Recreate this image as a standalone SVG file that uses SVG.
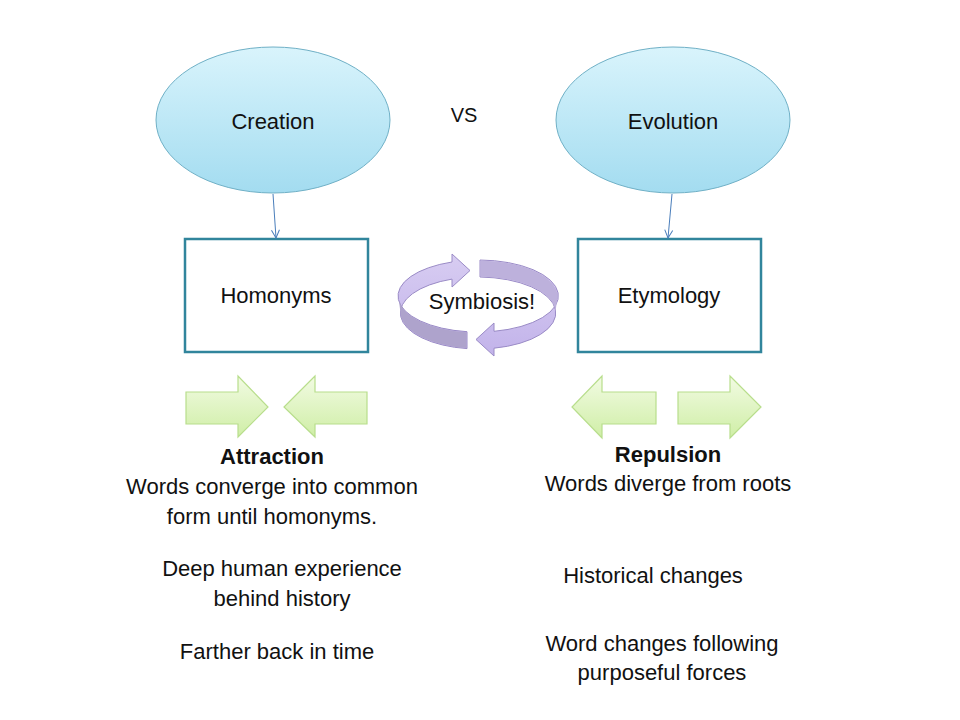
<svg xmlns="http://www.w3.org/2000/svg" width="960" height="720" viewBox="0 0 960 720">
<defs>
<linearGradient id="gBlue" x1="0" y1="0" x2="0" y2="1">
<stop offset="0" stop-color="#d9f4fc"/>
<stop offset="1" stop-color="#a3dcf0"/>
</linearGradient>
<linearGradient id="gGreen" x1="0" y1="0" x2="0" y2="1">
<stop offset="0" stop-color="#f2fbe3"/>
<stop offset="1" stop-color="#cfeea6"/>
</linearGradient>
<linearGradient id="gPurple" x1="0" y1="0" x2="0" y2="1">
<stop offset="0" stop-color="#d8cdf2"/>
<stop offset="1" stop-color="#c2b3ea"/>
</linearGradient>
<marker id="arr" markerWidth="10" markerHeight="10" refX="9" refY="5" orient="auto" markerUnits="userSpaceOnUse">
<path d="M1 1 L9 5 L1 9" fill="none" stroke="#4a7ebb" stroke-width="1"/>
</marker>
<style>
.t{font-family:"Liberation Sans",Arial,sans-serif;font-size:22px;fill:#111;text-anchor:middle}
.b{font-weight:bold}
.ell{fill:url(#gBlue);stroke:#6fb0c6;stroke-width:1}
.box{fill:#fff;stroke:#31859c;stroke-width:2.5}
.garr{fill:url(#gGreen);stroke:#b8de8c;stroke-width:1.2}
.ptop{fill:url(#gPurple);stroke:#9a8bc6;stroke-width:1}
.pshade{fill:#aea3cc;stroke:none}
.pshade2{fill:#bdb1dc;stroke:none}
.conn{stroke:#4a7ebb;stroke-width:1;fill:none}
</style>
</defs>
<rect width="960" height="720" fill="#fff"/>

<g id="creation">
<ellipse class="ell" cx="273" cy="120" rx="117" ry="73"/>
<text class="t" x="273" y="129">Creation</text>
</g>
<g id="evolution">
<ellipse class="ell" cx="673" cy="120" rx="117" ry="73"/>
<text class="t" x="673" y="129">Evolution</text>
</g>
<g id="vs">
<text class="t" x="464" y="122" style="font-size:20px">VS</text>
</g>
<g id="homonyms">
<rect class="box" x="185" y="239" width="183" height="113"/>
<text class="t" x="276" y="303">Homonyms</text>
</g>
<g id="etymology">
<rect class="box" x="578" y="239" width="183" height="113"/>
<text class="t" x="669" y="303">Etymology</text>
</g>

<g id="connectors">
<line class="conn" x1="273" y1="194" x2="276" y2="238" marker-end="url(#arr)"/>
<line class="conn" x1="672" y1="194" x2="668" y2="238" marker-end="url(#arr)"/>
</g>

<g id="symbiosis">
<path class="ptop" d="M467 331.7 A80 36 0 0 1 452 262 L452 254 L470 270.5 L452 287 L452 279.1 A78 36 0 0 0 467 348.6 Z"/>
<path class="pshade" d="M398.5 297 A80 36 0 0 0 466.5 332.2 L466.5 348 A78 36 0 0 1 400.5 313 Z"/>
<path class="ptop" d="M480 260 A80 36 0 0 1 494 331.3 L494 323 L476 339.5 L494 356 L494 348.2 A78 36 0 0 0 480 277 Z"/>
<path class="pshade2" d="M480.5 260.5 A80 36 0 0 1 557.5 296 L555.5 312 A78 36 0 0 0 480.5 276.5 Z"/>
<text class="t" x="482" y="309">Symbiosis!</text>
</g>

<g id="attraction-arrows">
<path class="garr" d="M186 392 L238 392 L238 376 L268 407 L238 437 L238 424 L186 424 Z"/>
<path class="garr" d="M367 392 L315 392 L315 376 L284 407 L315 437 L315 424 L367 424 Z"/>
</g>
<g id="repulsion-arrows">
<path class="garr" d="M656 392 L602 392 L602 376 L572 407 L602 438 L602 424 L656 424 Z"/>
<path class="garr" d="M678 392 L730 392 L730 376 L761 407 L730 438 L730 424 L678 424 Z"/>
</g>

<g id="attraction-text">
<text class="t b" x="272" y="464">Attraction</text>
<text class="t" x="272" y="494">Words converge into common</text>
<text class="t" x="272" y="524">form until homonyms.</text>
<text class="t" x="282" y="576">Deep human experience</text>
<text class="t" x="282" y="606">behind history</text>
<text class="t" x="277" y="659">Farther back in time</text>
</g>
<g id="repulsion-text">
<text class="t b" x="668" y="462">Repulsion</text>
<text class="t" x="668" y="491">Words diverge from roots</text>
<text class="t" x="653" y="583">Historical changes</text>
<text class="t" x="662" y="651">Word changes following</text>
<text class="t" x="662" y="680">purposeful forces</text>
</g>
</svg>
